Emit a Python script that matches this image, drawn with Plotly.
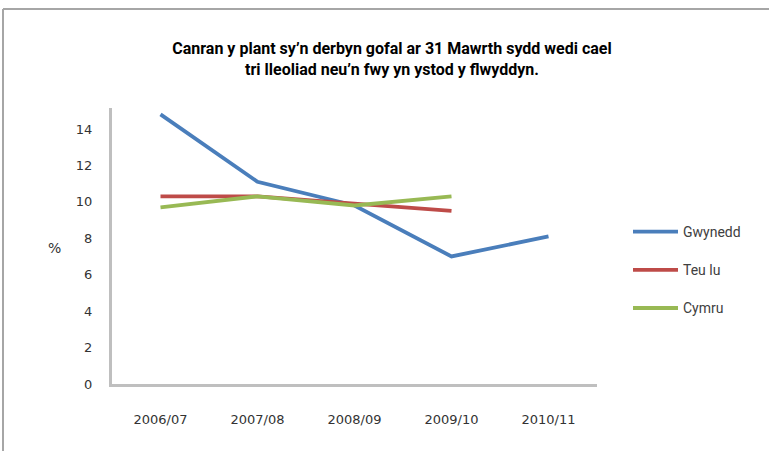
import plotly.graph_objects as go

years = ["2006/07", "2007/08", "2008/09", "2009/10", "2010/11"]
gwynedd = [14.8, 11.1, 9.8, 7.0, 8.1]
teulu = [10.3, 10.3, 9.9, 9.5, None]
cymru = [9.7, 10.3, 9.8, 10.3, None]
y_ticks = [0, 2, 4, 6, 8, 10, 12, 14]

series = [("Gwynedd", gwynedd, "#4a7ebb"),
          ("Teu lu", teulu, "#be4b48"),
          ("Cymru", cymru, "#98b954")]

fig = go.Figure()
for name, vals, col in series:
    fig.add_trace(go.Scatter(x=years, y=vals, mode="lines", name=name,
                             legendgroup=name,
                             line=dict(color=col, width=3.8)))

W, H = 769, 451
L, R, T, B = 112, 597, 108, 384

def px_x(p):
    return (p - L) / (R - L)

def px_y(p):
    return (B - p) / (B - T)

tickfont = dict(size=13, color="#333333", family="DejaVu Sans, sans-serif")

fig.update_layout(
    width=W, height=H,
    margin=dict(l=L, r=W - R, t=T, b=H - B),
    paper_bgcolor="white", plot_bgcolor="white",
    font=dict(family="Roboto, sans-serif", color="#404040", size=12),
    title=dict(text="<b>Canran y plant sy’n derbyn gofal ar 31 Mawrth sydd wedi cael<br>tri lleoliad neu’n fwy yn ystod y flwyddyn.</b>",
               x=(392 / W), xanchor="center", y=1 - 54 / H, yanchor="top",
               font=dict(size=16, color="black")),
    showlegend=True,
    legend=dict(x=px_x(628), y=px_y(216), xanchor="left", yanchor="top",
                traceorder="grouped", tracegroupgap=17,
                font=dict(size=14, color="#404040"), itemwidth=45,
                bgcolor="rgba(0,0,0,0)"),
    xaxis=dict(type="category", range=[-0.5, 4.5], showline=True, linecolor="#bfbfbf",
               linewidth=3, showgrid=False, ticks="", zeroline=False,
               ticklabelstandoff=21, tickfont=tickfont),
    yaxis=dict(range=[0, 15.15], tickvals=y_ticks, showline=True, linecolor="#bfbfbf",
               linewidth=3, showgrid=False, ticks="", zeroline=False,
               ticklabelstandoff=14, tickfont=tickfont),
    annotations=[dict(text="%", xref="paper", yref="paper", x=px_x(54), y=px_y(248),
                      xanchor="center", yanchor="middle", showarrow=False,
                      font=dict(size=14, color="#333333", family="DejaVu Sans, sans-serif"))],
    shapes=[
        dict(type="line", xref="paper", yref="paper",
             x0=px_x(3), x1=px_x(769), y0=px_y(9), y1=px_y(9),
             line=dict(color="#a6a6a6", width=2), layer="above"),
        dict(type="line", xref="paper", yref="paper",
             x0=px_x(3), x1=px_x(3), y0=px_y(9), y1=px_y(451),
             line=dict(color="#a6a6a6", width=2), layer="above"),
    ],
)

fig.write_html("out.html", config={"displayModeBar": False},
               post_script="document.body.style.margin='0';")
